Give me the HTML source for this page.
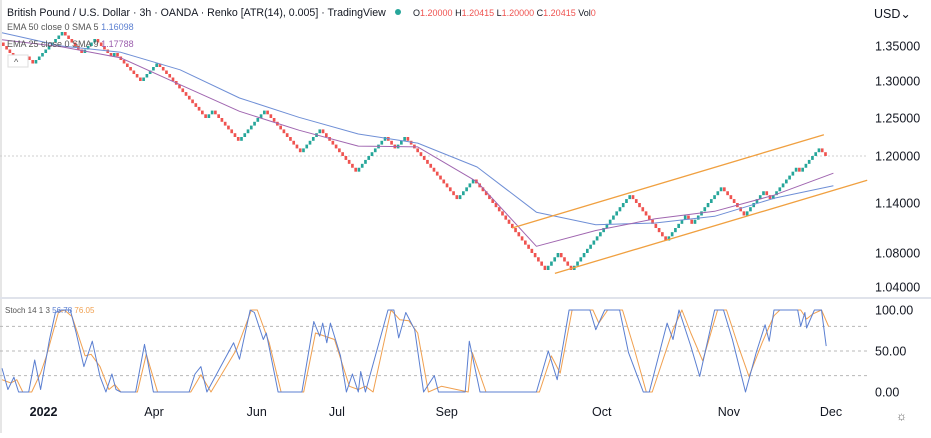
<!DOCTYPE html>
<html><head><meta charset="utf-8">
<style>
html,body{margin:0;padding:0;background:#fff;}
body{width:931px;height:433px;overflow:hidden;font-family:"Liberation Sans",sans-serif;}
svg text{font-family:"Liberation Sans",sans-serif;}
</style></head>
<body>
<svg id="chart" width="931" height="433" viewBox="0 0 931 433" xmlns="http://www.w3.org/2000/svg">
<rect x="0" y="0" width="931" height="433" fill="#fff"/>
<rect x="0" y="0" width="2" height="433" fill="#e6e6e6"/>
<g id="grid"></g>
<g id="main"></g>
<g id="stoch"></g>
<g id="axes"></g>
<text x="7" y="16" font-size="10.6" fill="#131722">British Pound / U.S. Dollar · 3h · OANDA · Renko [ATR(14), 0.005] · TradingView</text>
<circle cx="398" cy="12" r="3" fill="#26a69a"/>
<text x="413" y="16" font-size="9" fill="#131722">O<tspan fill="#ef5350">1.20000</tspan> H<tspan fill="#ef5350">1.20415</tspan> L<tspan fill="#ef5350">1.20000</tspan> C<tspan fill="#ef5350">1.20415</tspan> Vol<tspan fill="#ef5350">0</tspan></text>
<text x="7" y="30" font-size="9" fill="#555">EMA 50 close 0 SMA 5 <tspan fill="#5b7fd1">1.16098</tspan></text>
<text x="7" y="47" font-size="9" fill="#555">EMA 25 close 0 SMA 9 <tspan fill="#9c5fae">1.17788</tspan></text>
<rect x="8" y="55" width="20" height="12" fill="#fff" stroke="#ddd"/>
<text x="14" y="65" font-size="9" fill="#555">^</text>
<text x="874" y="18" font-size="12.5" fill="#131722">USD⌄</text>
<text x="5" y="313" font-size="8" fill="#555">Stoch 14 1 3 <tspan fill="#5b7fd1">56.78</tspan> <tspan fill="#f0a050">76.05</tspan></text>
<text x="896" y="420" font-size="12" fill="#555">☼</text>
</svg>
<script>
// ---------- data ----------
const renkoPivots=[1.355,1.325,1.335,1.325,1.370,1.340,1.360,1.335,1.340,1.300,1.325,1.250,1.260,1.220,1.260,1.205,1.235,1.225,1.180,1.225,1.210,1.225,1.145,1.155,1.170,1.060,1.080,1.060,1.150,1.120,1.095,1.125,1.115,1.160,1.125,1.155,1.145,1.185,1.180,1.210,1.200];
const renkoStartBar=0, renkoEndBar=1390;
const emaBars=[0,100,200,300,400,500,600,700,800,900,1000,1100,1200,1300,1400];
const ema50=[1.369,1.350,1.341,1.316,1.277,1.251,1.229,1.217,1.186,1.129,1.114,1.116,1.124,1.146,1.162];
const ema25=[1.359,1.349,1.333,1.295,1.259,1.234,1.213,1.212,1.167,1.088,1.107,1.121,1.130,1.150,1.178];
const channelUpperBars=[859,1384], channelUpper=[1.110,1.228];
const channelLowerBars=[931,1457], channelLower=[1.056,1.169];
const lastPrice=1.2;
const priceTicks=[1.35,1.30,1.25,1.20,1.14,1.08,1.04];
const priceTickLabels=["1.35000","1.30000","1.25000","1.20000","1.14000","1.08000","1.04000"];
const stochKBars=[0,10,20,28,45,55,65,80,90,100,115,125,138,152,165,175,185,192,200,225,240,255,315,325,335,345,390,400,418,425,440,445,465,505,525,535,540,547,553,570,580,590,600,604,612,650,660,668,680,695,710,728,735,780,787,805,900,920,935,955,990,1000,1015,1040,1055,1080,1090,1120,1130,1140,1160,1175,1200,1215,1230,1252,1270,1285,1292,1300,1340,1345,1352,1355,1368,1380,1388];
const stochK=[29,3,18,0,0,39,3,64,97,100,100,72,31,62,19,0,22,3,0,0,58,0,0,22,31,0,60,40,100,97,64,72,0,0,86,68,84,60,84,44,0,22,0,25,0,100,100,66,97,76,0,20,0,0,62,0,0,50,15,100,100,76,100,100,48,0,0,84,64,100,56,19,100,100,64,0,48,82,62,100,100,80,97,78,100,100,56];
const stochDBars=[0,15,25,35,50,65,75,95,105,118,140,150,165,180,190,200,228,243,262,318,335,352,395,420,430,450,470,508,528,560,585,600,612,625,655,670,685,700,718,740,785,792,815,905,925,940,960,995,1005,1020,1045,1065,1085,1095,1130,1145,1160,1180,1205,1220,1240,1258,1280,1300,1310,1345,1355,1365,1380,1392];
const stochD=[15,11,15,0,0,23,44,97,100,92,44,46,31,3,9,0,0,46,0,0,21,0,52,100,100,60,0,0,72,64,7,3,7,0,100,88,87,72,0,7,0,48,0,0,44,23,100,100,84,100,100,52,0,0,76,100,72,38,100,100,56,19,60,93,100,100,89,95,100,80];
const stochLevels=[80,50,20];
const stochTickVals=[100,50,0];
const stochTickLabels=["100.00","50.00","0.00"];
const monthBars=[70,256,429,564,749,1010,1224,1396];
const monthLabels=["2022","Apr","Jun","Jul","Sep","Oct","Nov","Dec"];

// ---------- scales ----------
const tickY=[46,81,118,156,203,253,287];
function yP(p){
  for(let i=0;i<priceTicks.length-1;i++){
    const a=priceTicks[i],b=priceTicks[i+1];
    if(p>=b||i===priceTicks.length-2){
      return tickY[i]+(a-p)/(a-b)*(tickY[i+1]-tickY[i]);
    }
  }
}
function xB(b){return 2+b/1.684;}
function yS(v){return 392-v*0.82;}
const NS="http://www.w3.org/2000/svg";
function mk(tag,attrs,parent){const e=document.createElementNS(NS,tag);for(const k in attrs)e.setAttribute(k,attrs[k]);parent.appendChild(e);return e;}
const main=document.getElementById('main'),stoch=document.getElementById('stoch'),axes=document.getElementById('axes'),grid=document.getElementById('grid');

let sep=mk('line',{x1:0,x2:931,y1:298,y2:298,stroke:'#e0e3eb','stroke-width':2},grid);


let lp=mk('line',{x1:0,x2:868,y1:yP(lastPrice),y2:yP(lastPrice),stroke:'#cfcfcf','stroke-width':1,'stroke-dasharray':'2,2'},grid);



// renko bricks
const bricks=[];
let cur=Math.round(renkoPivots[0]/0.005);
for(let i=1;i<renkoPivots.length;i++){
  const t=Math.round(renkoPivots[i]/0.005);
  const dir=t>cur?1:-1;
  while(cur!==t){bricks.push({lo:Math.min(cur,cur+dir)*0.005,hi:Math.max(cur,cur+dir)*0.005,up:dir>0});cur+=dir;}
}
const step=(renkoEndBar-renkoStartBar)/bricks.length;
bricks.forEach((bk,i)=>{
  const x=xB(renkoStartBar+i*step);
  const w=Math.max(1.6,xB(step)-xB(0)-0.6);
  const r=mk('rect',{x:x,y:yP(bk.hi),width:w,height:Math.max(1.5,yP(bk.lo)-yP(bk.hi)),fill:bk.up?'#26a69a':'#ef5350'},main);
  
  
});

function line(bars,vals,yf,color,w,parent,name){
  const d=bars.map((b,i)=>(i?'L':'M')+xB(b).toFixed(1)+','+yf(vals[i]).toFixed(1)).join('');
  const p=mk('path',{d:d,fill:'none',stroke:color,'stroke-width':w,'stroke-linejoin':'round'},parent);
  
  
}
line(emaBars,ema50,yP,'#6f8fd6',1,main,'ema50-line');
line(emaBars,ema25,yP,'#a066b0',1,main,'ema25-line');
line(channelUpperBars,channelUpper,yP,'#f0a040',1.3,main,'channel-upper-line');
line(channelLowerBars,channelLower,yP,'#f0a040',1.3,main,'channel-lower-line');

priceTicks.forEach((p,i)=>{
  const t=mk('text',{x:875,y:yP(p)+4.5,'font-size':12.5,fill:'#131722'},axes);
  t.textContent=priceTickLabels[i];
  
  
});

stochLevels.forEach(v=>{
  const l=mk('line',{x1:0,x2:868,y1:yS(v),y2:yS(v),stroke:'#b8b8b8','stroke-width':1,'stroke-dasharray':'3,3'},stoch);
  
  
});
line(stochDBars,stochD,yS,'#f0a050',1,stoch,'stoch-d-line');
line(stochKBars,stochK,yS,'#5b7fd1',1,stoch,'stoch-k-line');
stochTickVals.forEach((v,i)=>{
  const t=mk('text',{x:875,y:yS(v)+4.5,'font-size':12.5,fill:'#131722'},axes);
  t.textContent=stochTickLabels[i];
  
  
});

monthBars.forEach((b,i)=>{
  const t=mk('text',{x:xB(b),y:416,'font-size':12.5,fill:'#131722','text-anchor':'middle','font-weight':i===0?'bold':'normal'},axes);
  t.textContent=monthLabels[i];
  
  
});
</script>
</body></html>
